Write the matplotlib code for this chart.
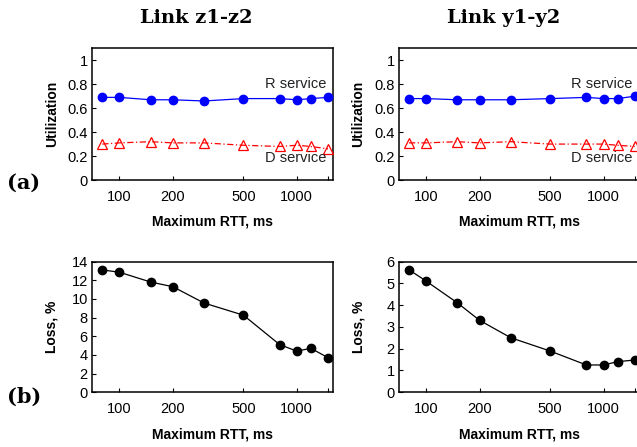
"""
Link utilization and loss vs. maximum RTT, two links side by side.
"""

import matplotlib
matplotlib.use("Agg")
import matplotlib.pyplot as plt

plt.rcParams['font.family'] = ['Liberation Sans', 'DejaVu Sans']

# data
rtt = [80, 100, 150, 200, 300, 500, 800, 1000, 1200, 1500]

util_r_z = [0.69, 0.69, 0.67, 0.67, 0.66, 0.68, 0.68, 0.67, 0.68, 0.69]
util_d_z = [0.30, 0.31, 0.32, 0.31, 0.31, 0.29, 0.28, 0.29, 0.28, 0.26]
util_r_y = [0.68, 0.68, 0.67, 0.67, 0.67, 0.68, 0.69, 0.68, 0.68, 0.70]
util_d_y = [0.31, 0.31, 0.32, 0.31, 0.32, 0.30, 0.30, 0.30, 0.29, 0.28]

loss_z = [13.1, 12.85, 11.8, 11.3, 9.55, 8.25, 5.1, 4.4, 4.7, 3.7]
loss_y = [5.62, 5.1, 4.1, 3.3, 2.5, 1.89, 1.25, 1.25, 1.4, 1.48]

x_ticks = [100, 200, 500, 1000, 1500]
x_tick_labels = ['100', '200', '500', '1000', '']

titles = ['Link z1-z2', 'Link y1-y2']
util_ticks = [0, 0.2, 0.4, 0.6, 0.8, 1]
util_tick_labels = ['0', '0.2', '0.4', '0.6', '0.8', '1']

W, H = 637, 447
fig = plt.figure(figsize=(W / 100, H / 100), dpi=100)

ax_w = 241 / W
lefts = [92 / W, 398.7 / W]
top_bottom, top_h = 1 - 180 / H, 131.7 / H
bot_bottom, bot_h = 1 - 392.2 / H, 130.7 / H


def style_axis(ax):
    ax.set_xscale('log')
    ax.set_xlim(70, 1600)
    ax.set_xticks(x_ticks)
    ax.set_xticklabels(x_tick_labels)
    ax.minorticks_off()
    ax.tick_params(direction='in', length=3, width=0.8, labelsize=10.5,
                   top=False, right=False)
    ax.tick_params(axis='x', pad=7)
    ax.tick_params(axis='y', pad=3)
    for s in ax.spines.values():
        s.set_linewidth(1.1)
    ax.set_xlabel('Maximum RTT, ms', fontsize=10, fontweight='bold', labelpad=8)
    ax.yaxis.set_label_coords(-0.138, 0.5)


util_sets = [(util_r_z, util_d_z), (util_r_y, util_d_y)]
loss_sets = [(loss_z, 14, [0, 2, 4, 6, 8, 10, 12, 14]),
             (loss_y, 6, [0, 1, 2, 3, 4, 5, 6])]

for i in range(2):
    ax = fig.add_axes([lefts[i], top_bottom, ax_w, top_h])
    r_vals, d_vals = util_sets[i]
    ax.plot(rtt, r_vals, color='#0000ff', lw=0.9, marker='o', ms=6,
            clip_on=False, zorder=3)
    ax.plot(rtt, d_vals, color='#ff0000', lw=0.9, ls=(0, (5, 2, 1, 2)),
            marker='^', ms=6.5, mfc='none', mew=0.9, clip_on=False, zorder=3)
    ax.set_ylim(0, 1.1)
    ax.set_yticks(util_ticks)
    ax.set_yticklabels(util_tick_labels)
    ax.set_ylabel('Utilization', fontsize=10, fontweight='bold')
    style_axis(ax)
    ax.text(1460, 0.80, 'R service', ha='right', va='center', fontsize=10.5,
            color='#222222')
    ax.text(1460, 0.18, 'D service', ha='right', va='center', fontsize=10.5,
            color='#222222')

    ax2 = fig.add_axes([lefts[i], bot_bottom, ax_w, bot_h])
    loss, ymax, yt = loss_sets[i]
    ax2.plot(rtt, loss, color='black', lw=0.9, marker='o', ms=6,
             clip_on=False, zorder=3)
    ax2.set_ylim(0, ymax)
    ax2.set_yticks(yt)
    ax2.set_ylabel('Loss, %', fontsize=10, fontweight='bold')
    style_axis(ax2)

# column titles and row tags
fig.text(196 / W, 1 - 18 / H, titles[0], ha='center', va='center',
         family='DejaVu Serif', fontweight='bold', fontsize=14)
fig.text(504 / W, 1 - 18 / H, titles[1], ha='center', va='center',
         family='DejaVu Serif', fontweight='bold', fontsize=14)
fig.text(7 / W, 1 - 183 / H, '(a)', ha='left', va='center',
         family='DejaVu Serif', fontweight='bold', fontsize=15)
fig.text(7 / W, 1 - 397 / H, '(b)', ha='left', va='center',
         family='DejaVu Serif', fontweight='bold', fontsize=15)

plt.savefig('out.png', dpi=100)
plt.close()
